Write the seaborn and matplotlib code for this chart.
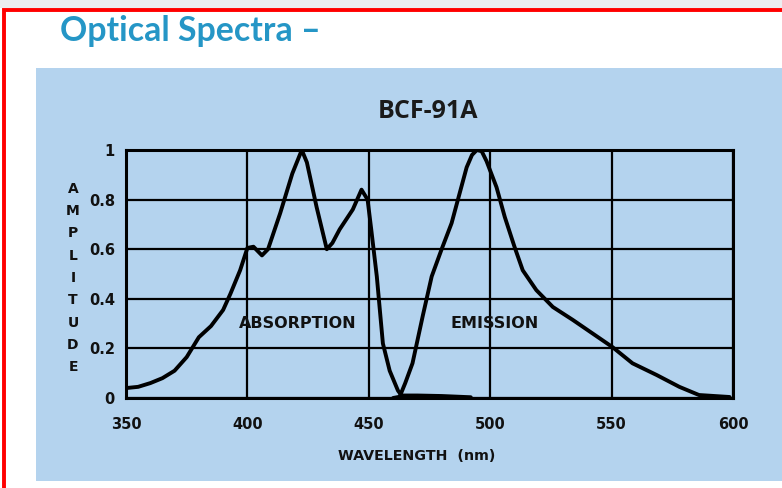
import matplotlib
matplotlib.use("Agg")
import matplotlib.pyplot as plt
import seaborn as sns
import pandas as pd
from matplotlib.patches import Rectangle

# ---- data ----
absorption_nm = [350, 355, 360, 365, 370, 375, 380, 385, 390, 393, 397, 400, 402.5,
                 406, 408.5, 413.5, 418.5, 422.4, 424.5, 428.5, 432.7, 435, 438,
                 443.4, 447, 449.5, 451, 453.3, 455.8, 458.6, 462, 463.5, 470, 480, 492]
absorption_amp = [0.04, 0.045, 0.06, 0.08, 0.11, 0.165, 0.245, 0.29, 0.355, 0.42, 0.515,
                  0.605, 0.61, 0.575, 0.6, 0.745, 0.905, 1.0, 0.95, 0.77, 0.6, 0.625,
                  0.68, 0.76, 0.84, 0.8, 0.68, 0.49, 0.22, 0.11, 0.03, 0.01, 0.01,
                  0.008, 0.003]

emission_nm = [460, 462.7, 465, 468, 472.2, 475.9, 480, 484.1, 487.4, 490.3, 492.5, 494.5,
               496.5, 498.5, 502.6, 506, 510, 513.4, 519, 525.8, 534, 542.2, 550.4,
               558.6, 568.5, 577.9, 586, 598.6]
emission_amp = [0.0, 0.005, 0.06, 0.14, 0.33, 0.49, 0.6, 0.705, 0.825, 0.93, 0.98, 1.0,
                0.995, 0.955, 0.85, 0.73, 0.61, 0.515, 0.435, 0.367, 0.315, 0.26, 0.205,
                0.14, 0.093, 0.045, 0.012, 0.004]

x_ticks = [350, 400, 450, 500, 550, 600]
y_ticks = [0, 0.2, 0.4, 0.6, 0.8, 1.0]
y_tick_labels = ["0", "0.2", "0.4", "0.6", "0.8", "1"]

page_title = "Optical Spectra \u2013"
chart_title = "BCF-91A"
x_label = "WAVELENGTH  (nm)"
y_label = "AMPLITUDE"

# ---- figure ----
sns.set_style("white")
W, H = 782, 488
fig = plt.figure(figsize=(W / 100, H / 100), dpi=100)
fig.patch.set_facecolor("white")

# grey strip at top, red frame, blue panel
fig.patches.append(Rectangle((0, 1 - 8 / H), 1, 8 / H, transform=fig.transFigure,
                             fc="#ECEEF1", ec="none", zorder=-3))
fig.patches.append(Rectangle((36 / W, 1 - 481 / H), 1.0, (481 - 68) / H,
                             transform=fig.transFigure, fc="#B4D3EE", ec="none", zorder=-3))
fig.patches.append(Rectangle((3.5 / W, -0.2), 1.2, 1.2 - 9.5 / H, transform=fig.transFigure,
                             fill=False, ec="#FF0000", lw=2.8, zorder=-2))

fig.text(60 / W, 1 - 31 / H, page_title, color="#2596C6", fontsize=24.4,
         fontweight="bold", family=["Lato", "DejaVu Sans"], ha="left", va="center")

ax = fig.add_axes([126 / W, 1 - 398 / H, (733 - 126) / W, (398 - 150) / H])
ax.set_zorder(3)
ax.set_facecolor("none")

abs_df = pd.DataFrame({"nm": absorption_nm, "amp": absorption_amp})
emi_df = pd.DataFrame({"nm": emission_nm, "amp": emission_amp})
sns.lineplot(data=abs_df, x="nm", y="amp", ax=ax, color="black", lw=2.8,
             sort=False, estimator=None, zorder=5)
sns.lineplot(data=emi_df, x="nm", y="amp", ax=ax, color="black", lw=2.8,
             sort=False, estimator=None, zorder=5)

ax.set_xlim(350, 600)
ax.set_ylim(0, 1)
ax.set_xticks(x_ticks)
ax.set_yticks(y_ticks)
ax.set_yticklabels(y_tick_labels)
ax.grid(True, color="black", lw=1.6)
for s in ax.spines.values():
    s.set_visible(True)
    s.set_color("black")
    s.set_linewidth(2.2)
ax.tick_params(length=0, labelsize=10.5, labelcolor="#111111")
ax.tick_params(axis="x", pad=14)
ax.tick_params(axis="y", pad=8)
for lab in ax.get_xticklabels() + ax.get_yticklabels():
    lab.set_fontweight("bold")
    lab.set_family("DejaVu Sans")

ax.set_xlabel("")
ax.set_ylabel("")

ax.text(420.8, 0.30, "ABSORPTION", ha="center", va="center", fontsize=11.5,
        fontweight="bold", family="DejaVu Sans", color="#111111", zorder=6)
ax.text(501.8, 0.30, "EMISSION", ha="center", va="center", fontsize=11.5,
        fontweight="bold", family="DejaVu Sans", color="#111111", zorder=6)

fig.text(417 / W, 1 - 456 / H, x_label, ha="center", va="center", fontsize=10.3,
         fontweight="bold", family="DejaVu Sans", color="#111111")
fig.text(73 / W, 1 - 278 / H, "\n".join(y_label), ha="center", va="center",
         fontsize=10, fontweight="bold", family="DejaVu Sans", color="#111111",
         linespacing=1.76)

fig.text(428 / W, 1 - 112 / H, chart_title, ha="center", va="center", fontsize=18,
         fontweight="bold", family=["Open Sans", "DejaVu Sans"], color="#1A1A1A")

fig.savefig("out.png", dpi=100)
